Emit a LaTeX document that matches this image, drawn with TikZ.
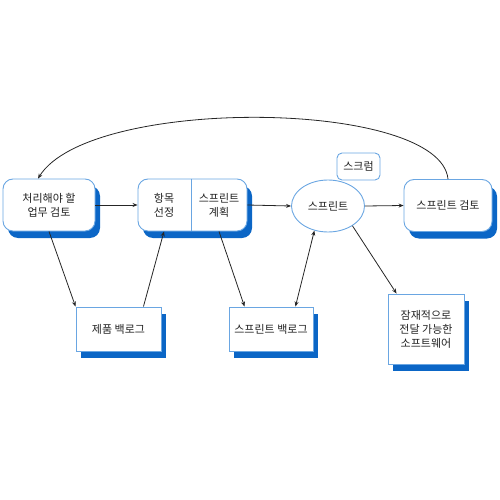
\documentclass[tikz,border=0pt]{standalone}
\usepackage{fontspec}
\setmainfont{Noto Sans CJK KR}
\usetikzlibrary{shadows,arrows.meta,shapes.geometric,calc}
\definecolor{edgeblue}{HTML}{6AA6E2}
\definecolor{shadblue}{HTML}{0B66C6}
\definecolor{txt}{HTML}{222222}
\begin{document}
\begin{tikzpicture}[x=1pt,y=-1pt,
  every node/.style={text=txt,font=\fontsize{11}{14}\selectfont,align=center,inner sep=0pt},
  shad/.style={drop shadow={opacity=1,fill=shadblue,shadow xshift=5pt,shadow yshift=-7pt}},
  rbox/.style={draw=edgeblue,line width=0.9pt,fill=white,rounded corners=10pt,shad},
  sbox/.style={draw=edgeblue,line width=0.9pt,fill=white,shad},
  conn/.style={draw=black!85,line width=0.8pt,-{Stealth[length=5pt,width=4pt]}},
  conn2/.style={draw=black!85,line width=0.8pt,{Stealth[length=5pt,width=4pt]}-{Stealth[length=5pt,width=4pt]}}]
\useasboundingbox (0,0) rectangle (500,500);
\node[rbox,minimum width=92pt,minimum height=52pt] (A) at (49,205) {처리해야 할\\업무 검토};
\node[rbox,minimum width=109pt,minimum height=52pt] (B) at (192.5,205) {};
\node (B1) at (164,205) {항목\\선정};
\node (B2) at (219,205) {스프린트\\계획};
\draw[draw=edgeblue,line width=0.9pt] (B.north -| 191,0) -- (B.south -| 191,0);
\node[ellipse,draw=edgeblue,line width=0.9pt,fill=white,minimum width=73pt,minimum height=52pt] (E) at (328,206) {스프린트};
\node[draw=edgeblue,line width=0.9pt,fill=white,rounded corners=5pt,minimum width=43pt,minimum height=27pt] (S) at (358.5,166.5) {스크럼};
\node[rbox,minimum width=88pt,minimum height=52pt] (R) at (448,205.5) {스프린트 검토};
\node[sbox,minimum width=85pt,minimum height=44pt] (P) at (118.5,329) {제품 백로그};
\node[sbox,minimum width=84pt,minimum height=44pt] (SB) at (271,329) {스프린트 백로그};
\node[sbox,minimum width=76pt,minimum height=70pt] (D) at (426,329) {잠재적으로\\전달 가능한\\소프트웨어};
\draw[conn] (A.east) -- (B.west);
\draw[conn] (B.east) -- (E.west);
\draw[conn] (E.east) -- (R.west);
\draw[conn] (A.south) -- (P.north west);
\draw[conn] ([xshift=-18pt]P.north east) -- (B.south -| B1);
\draw[conn] (B.south -| B2) -- ([xshift=16pt]SB.north west);
\draw[conn2] ([xshift=-18pt]SB.north east) -- (E.241);
\draw[conn] (E.321) -- ([xshift=9pt]D.north west);
\draw[conn] (R.north) .. controls +(-8,-80) and +(52,-83) .. ([xshift=-11pt]A.north);
\end{tikzpicture}
\end{document}
